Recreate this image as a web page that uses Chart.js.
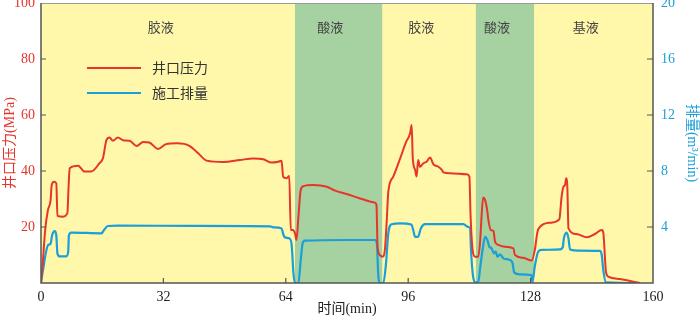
<!DOCTYPE html>
<html>
<head>
<meta charset="utf-8">
<script src="https://cdn.jsdelivr.net/npm/chart.js@4.4.1/dist/chart.umd.min.js"></script>
<style>
  html, body { margin: 0; padding: 0; background: #fff; }
  #wrap { width: 700px; height: 321px; }
</style>
</head>
<body>
<div id="wrap"><canvas id="myChart"></canvas></div>
<script>
// wellhead pressure (MPa) vs time (min)
const timeP = [0, 0.5, 1.1, 1.8, 2.5, 2.8, 3.4, 4.0, 4.3, 5.8, 6.9, 7.2, 7.5, 9.7, 11.4, 13.1, 15.3, 16.2, 17.1, 17.9,
  18.8, 20.1, 21.4, 23.2, 25.0, 26.7, 28.3, 30.6, 32.7, 35.5, 38.8, 41.1, 43.3, 47.7, 52, 55.5, 58.1, 60.3, 62.0, 62.9,
  63.3, 64.2, 64.9, 65.3, 65.8, 66.4, 66.8, 67.3, 67.9, 68.6, 71.2, 74.7, 76.9, 79.9, 83.4, 87.3, 87.7, 88.0, 88.6, 89.3,
  89.9, 90.4, 90.8, 92.1, 93.9, 95.4, 96.5, 96.9, 97.2, 97.8, 98.2, 98.6, 99.1, 99.9, 100.8, 101.7, 102.6, 103.9, 104.8, 105.2,
  106.9, 111.3, 112.0, 112.3, 112.9, 113.5, 114.3, 114.8, 115.2, 115.6, 116.1, 116.7, 116.9, 117.6, 118.3, 118.7, 119.6, 120.9, 123.5, 123.9,
  126.1, 128.3, 129.1, 129.8, 130.5, 133.1, 135.5, 136.1, 136.6, 137.0, 137.3, 137.6, 137.9, 140, 142.7, 144.8, 146.6, 147.0, 147.7, 148.3,
  151.4, 156.6];
const pressure = [0, 8, 19, 26, 29.5, 35, 36.2, 35.6, 24, 23.7, 25, 34, 41, 41.9, 39.8, 39.8, 42.8, 44.6, 51, 52,
  50.8, 52, 51, 50.8, 48.9, 50.4, 50.2, 47.9, 49.6, 49.9, 49.0, 46.3, 43.7, 43.2, 43.9, 44.5, 44.2, 43.0, 43.3, 43.7,
  38, 37.4, 38.2, 18.9, 18.9, 17.7, 15.4, 23.7, 33.2, 34.6, 35, 34.4, 33, 31.8, 30.2, 28.7, 27.9, 13, 10, 9.4,
  11.8, 22.5, 32.6, 38, 44.5, 50.2, 53.5, 56.4, 44.5, 40.4, 38, 43.9, 41.5, 42.7, 43.3, 44.8, 42.4, 41.5, 40.4, 39.5,
  39.2, 38.8, 38, 24.3, 11.2, 9.4, 9.4, 14.8, 24.3, 30.5, 29.6, 25.5, 23.1, 18.9, 18.6, 14.8, 13.6, 13, 12.4, 10,
  9, 8, 11.8, 18.3, 20.1, 21.5, 22.7, 30.8, 34.4, 35, 37.4, 34.4, 19.5, 17.5, 16.3, 17.5, 18.9, 18, 4, 2.3,
  1.4, 0];

// pumping rate (m3/min) vs time (min)
const timeQ = [0, 0.8, 1.1, 1.8, 2.5, 2.9, 3.6, 4.0, 4.3, 4.9, 6.6, 7.1, 7.3, 7.9, 15.8, 16.5, 17.5, 20.1, 40, 59.9,
  60.7, 62.9, 63.4, 63.8, 64.9, 65.5, 66.0, 66.4, 67.3, 67.9, 68.4, 69, 79.9, 87.3, 87.8, 88.2, 88.6, 89.5, 90.2, 90.8,
  91.7, 93.9, 96.9, 97.3, 97.8, 98.6, 99.3, 100.4, 110.4, 111.7, 112.2, 112.4, 112.9, 113.5, 114.3, 114.8, 115.5, 116.1, 116.7, 117.2,
  117.8, 118.4, 118.9, 119.3, 120.0, 120.9, 122.6, 123.3, 123.7, 125.2, 128.2, 128.5, 129.1, 130.0, 130.9, 135.7, 136.4, 136.7, 137.4, 137.9,
  138.3, 140.5, 146.1, 146.6, 147.0, 147.7, 156];
const flow = [0, 1.4, 1.9, 2.7, 2.8, 3.4, 3.7, 3.4, 2.1, 1.9, 1.9, 2.2, 3.4, 3.6, 3.55, 3.8, 4.07, 4.1, 4.08, 4.05,
  3.98, 3.9, 3.43, 3.26, 3.19, 2.8, 0.7, 0, 0, 1.64, 2.83, 3.02, 3.07, 3.07, 2.83, 0.45, 0, 0, 1.4, 3.55,
  4.2, 4.26, 4.16, 3.8, 3.3, 3.3, 3.9, 4.2, 4.2, 4.0, 3.9, 2.48, 0.6, 0.05, 0.05, 1.05, 2.48, 3.3, 3.07, 2.6,
  2.48, 2.12, 2.24, 1.88, 2.05, 1.76, 1.64, 1.4, 0.76, 0.62, 0.57, 0.1, 1.19, 2.24, 2.36, 2.4, 2.55, 3.19, 3.6, 3.19,
  2.4, 2.31, 2.29, 2.0, 0.93, 0.05, 0];

// acid stages (min) and stage labels
const acidStart = [66.4, 113.7];
const acidEnd = [89.2, 128.9];
const stageNames = ['胶液', '酸液', '胶液', '酸液', '基液'];
const stageAt = [31.3, 75.6, 99.4, 119.2, 142.4];

const xTicks = [0, 32, 64, 96, 128, 160];

const RED = '#E6352B';
const BLUE = '#1A9FD8';
const NUM_FONT = '"Liberation Serif", "Noto Sans CJK SC", serif';
const CJK_FONT = '"Noto Sans CJK SC", sans-serif';

const frame = {
    id: 'frame',
    beforeDatasetsDraw(chart) {
        const {ctx, chartArea: a, scales: {x}} = chart;
        ctx.save();
        ctx.fillStyle = '#FFF7AA';
        ctx.fillRect(a.left, a.top, a.width, a.height);
        ctx.fillStyle = '#A6D1A1';
        acidStart.forEach((s, i) => {
            const x0 = x.getPixelForValue(s);
            const x1 = x.getPixelForValue(acidEnd[i]);
            ctx.fillRect(x0, a.top, x1 - x0, a.height);
        });
        ctx.fillStyle = '#444';
        ctx.font = '13px ' + CJK_FONT;
        ctx.textAlign = 'center';
        ctx.textBaseline = 'middle';
        stageNames.forEach((n, i) => ctx.fillText(n, x.getPixelForValue(stageAt[i]), a.top + 24));
        ctx.restore();
    },
    afterDatasetsDraw(chart) {
        const {ctx, chartArea: a, scales: {x, y, y1}} = chart;
        ctx.save();
        // border
        ctx.strokeStyle = '#999';
        ctx.lineWidth = 1;
        ctx.beginPath();
        ctx.moveTo(a.left, a.top + 0.5);
        ctx.lineTo(a.right, a.top + 0.5);
        ctx.stroke();
        ctx.strokeStyle = '#555';
        ctx.lineWidth = 1.5;
        ctx.beginPath();
        ctx.moveTo(a.left, a.top);
        ctx.lineTo(a.left, a.bottom);
        ctx.lineTo(a.right, a.bottom);
        ctx.lineTo(a.right, a.top);
        ctx.stroke();
        // inward ticks
        ctx.lineWidth = 1.2;
        ctx.beginPath();
        xTicks.slice(1, -1).forEach(v => {
            const px = x.getPixelForValue(v);
            ctx.moveTo(px, a.bottom);
            ctx.lineTo(px, a.bottom - 5);
        });
        [20, 40, 60, 80].forEach(v => {
            const py = y.getPixelForValue(v);
            ctx.moveTo(a.left, py);
            ctx.lineTo(a.left + 5, py);
        });
        [4, 8, 12, 16].forEach(v => {
            const py = y1.getPixelForValue(v);
            ctx.moveTo(a.right, py);
            ctx.lineTo(a.right - 6, py);
        });
        ctx.stroke();
        // legend
        const items = [['井口压力', RED], ['施工排量', BLUE]];
        ctx.font = '14px ' + CJK_FONT;
        ctx.textBaseline = 'middle';
        ctx.textAlign = 'left';
        items.forEach((it, i) => {
            const ly = a.top + 65 + i * 25;
            ctx.strokeStyle = it[1];
            ctx.lineWidth = 2.2;
            ctx.beginPath();
            ctx.moveTo(a.left + 46, ly);
            ctx.lineTo(a.left + 100, ly);
            ctx.stroke();
            ctx.fillStyle = '#333';
            ctx.fillText(it[0], a.left + 111, ly);
        });
        ctx.restore();
    }
};

function fixBox(size, isX) {
    return function(scale) {
        if (isX) scale.height = size; else scale.width = size;
        scale.paddingTop = 0;
        scale.paddingBottom = 0;
        scale.paddingLeft = 0;
        scale.paddingRight = 0;
    };
}

const ctx = document.getElementById('myChart').getContext('2d');
new Chart(ctx, {
    type: 'line',
    data: {
        datasets: [{
            label: '井口压力',
            data: timeP.map((t, i) => ({x: t, y: pressure[i]})),
            borderColor: RED,
            borderWidth: 2,
            pointRadius: 0,
            cubicInterpolationMode: 'monotone',
            yAxisID: 'y'
        }, {
            label: '施工排量',
            data: timeQ.map((t, i) => ({x: t, y: flow[i]})),
            borderColor: BLUE,
            borderWidth: 2.2,
            pointRadius: 0,
            cubicInterpolationMode: 'monotone',
            yAxisID: 'y1'
        }]
    },
    options: {
        responsive: true,
        maintainAspectRatio: false,
        animation: false,
        layout: { padding: { top: 3, left: 0, right: 0, bottom: 0 } },
        plugins: {
            legend: { display: false },
            tooltip: { enabled: false }
        },
        scales: {
            x: {
                type: 'linear',
                min: 0,
                max: 160,
                afterBuildTicks: s => { s.ticks = xTicks.map(v => ({value: v})); },
                afterFit: fixBox(38, true),
                grid: { display: false, drawTicks: false },
                border: { display: false },
                ticks: { color: '#222', padding: 6, maxRotation: 0, font: { family: NUM_FONT, size: 14 } },
                title: { display: true, text: '时间(min)', color: '#222', padding: { top: 0, bottom: 3 }, font: { family: NUM_FONT, size: 14 } }
            },
            y: {
                position: 'left',
                min: 0,
                max: 100,
                afterFit: fixBox(41, false),
                grid: { display: false, drawTicks: false },
                border: { display: false },
                ticks: { stepSize: 20, color: RED, padding: 6, font: { family: NUM_FONT, size: 14 },
                    callback: v => v === 0 ? '' : v },
                title: { display: true, text: '井口压力(MPa)', color: RED, padding: { top: 2, bottom: 0 }, font: { family: NUM_FONT, size: 14 } }
            },
            y1: {
                position: 'right',
                min: 0,
                max: 20,
                afterFit: fixBox(47, false),
                grid: { display: false, drawTicks: false },
                border: { display: false },
                ticks: { stepSize: 4, color: BLUE, padding: 8, font: { family: NUM_FONT, size: 14 },
                    callback: v => v === 0 ? '' : v },
                title: { display: true, text: '排量(m³/min)', color: BLUE, padding: { top: 0, bottom: 0 }, font: { family: NUM_FONT, size: 14 } }
            }
        }
    },
    plugins: [frame]
});
</script>
</body>
</html>
